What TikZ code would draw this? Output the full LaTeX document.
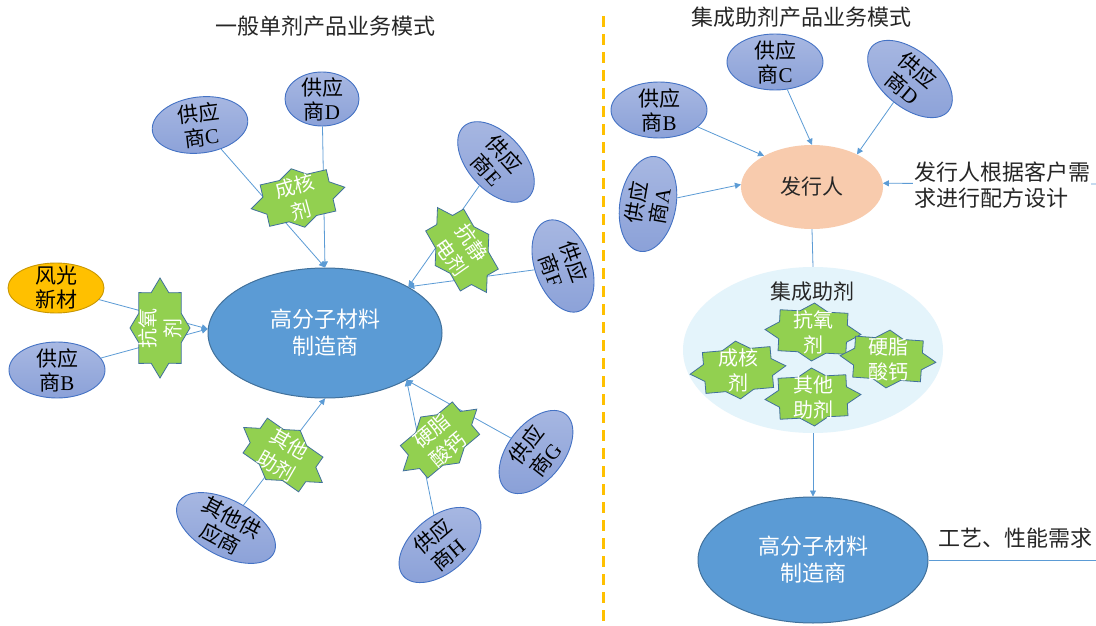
\documentclass[tikz,border=0pt]{standalone}
\usepackage{fontspec}
\setmainfont{Liberation Serif}
\newfontfamily\cjk{Noto Sans CJK SC}
\usetikzlibrary{shapes.geometric,arrows.meta}
\definecolor{supborder}{HTML}{4472C4}
\definecolor{supA}{HTML}{A8B8E2}
\definecolor{supB}{HTML}{8BA1D8}
\definecolor{mainfill}{HTML}{5B9BD5}
\definecolor{mainborder}{HTML}{41719C}
\definecolor{lineblue}{HTML}{5B9BD5}
\definecolor{stargreen}{HTML}{92D050}
\definecolor{orangefill}{HTML}{FFC000}
\definecolor{orangeborder}{HTML}{C99700}
\definecolor{peach}{HTML}{F8CBAD}
\definecolor{paleblue}{HTML}{E4F4FB}
\definecolor{dashorange}{HTML}{FFC000}
\definecolor{txt}{HTML}{262626}
\newcommand\gyslabel[1]{{\cjk 供应}\\{\cjk 商}#1}
\newcommand\drawstar[5]{\draw[starsty,shift={(#1,#2)},rotate=#3] plot[samples at={0,22.5,...,337.5},variable=\t] ({#4*cos(\t)*(1-0.235*mod(round(\t/22.5),2))},{#5*sin(\t)*(1-0.235*mod(round(\t/22.5),2))}) -- cycle;}
\tikzset{
 sup/.style={ellipse, draw=supborder, line width=0.9pt, top color=supA, bottom color=supB,
   minimum width=96pt, minimum height=56pt, inner xsep=0pt, inner ysep=-10pt,
   align=center, font=\fontsize{21}{24}\selectfont, text=black},
 orangesup/.style={ellipse, draw=orangeborder, line width=0.9pt, fill=orangefill,
   minimum width=96pt, minimum height=50pt, inner xsep=0pt, inner ysep=-10pt,
   align=center, font=\cjk\fontsize{21}{24}\selectfont, text=black},
 starsty/.style={fill=stargreen, draw=mainborder, line width=0.8pt, line join=miter},
 startxt/.style={align=center, text=white, font=\cjk\fontsize{20}{25}\selectfont, inner sep=0pt},
 conn/.style={draw=lineblue, line width=0.8pt},
 arr/.style={conn, -{Triangle[length=6pt,width=6pt]}},
 mfr/.style={ellipse, fill=mainfill, draw=mainborder, line width=1pt, inner sep=0pt,
   align=center, text=white, font=\cjk\fontsize{22}{27}\selectfont},
 title/.style={font=\cjk\fontsize{22}{26}\selectfont, text=txt, inner sep=1pt},
}
\begin{document}
\begin{tikzpicture}[x=1pt,y=-1pt]
\useasboundingbox (0,0) rectangle (1096,626);
\fill[white] (0,0) rectangle (1096,626);
% separator
\coordinate (sepT) at (603,16);
\coordinate (sepB) at (603,626);
\draw[dashorange, line width=3pt, dash pattern=on 11pt off 7pt] (sepT) -- (sepB);
% titles
\node[title] (t1) at (325,26) {一般单剂产品业务模式};
\node[title] (t2) at (801,17) {集成助剂产品业务模式};
% ===== left side =====
\node[mfr, minimum width=234pt, minimum height=130pt] (M) at (325,333) {高分子材料\\制造商};
\node[sup, rotate=7] (sC) at (200,125) {\gyslabel{C}};
\node[sup, minimum width=74pt, minimum height=54pt] (sD) at (322,99) {\gyslabel{D}};
\node[sup, rotate=-48] (sE) at (496,162) {\gyslabel{E}};
\node[sup, rotate=-70] (sF) at (563,266) {\gyslabel{F}};
\node[orangesup] (fg) at (56,288) {风光\\新材};
\node[sup] (sB) at (57,370) {\gyslabel{B}};
\node[sup, rotate=-28, minimum width=108pt, font=\cjk\fontsize{21}{24}\selectfont] (sO) at (226,528) {其他供\\应商};
\node[sup, rotate=40] (sH) at (440,545) {\gyslabel{H}};
\node[sup, rotate=52] (sG) at (536,452) {\gyslabel{G}};
% connectors
\draw[arr] (sC) -- (M.north);
\draw[arr] (sD) -- (M.north);
\draw[arr] (sE) -- (M.29);
\draw[arr] (sF) -- (M.29);
\draw[arr] (fg) -- (M.178);
\draw[arr] (sB) -- (M.178);
\draw[arr] (sO) -- (M.south);
\draw[arr] (sG) -- (M.-30);
\draw[arr] (sH) -- (M.-30);
% stars
\drawstar{298}{198}{13}{48}{30}
\node[startxt, rotate=15] (k1) at (298,198) {成核\\剂};
\drawstar{462}{250}{-60}{49}{31}
\node[startxt, rotate=-55] (k2) at (462,250) {抗静\\电剂};
\drawstar{160}{328}{90}{50}{30}
\node[startxt, rotate=90] (k3) at (160,328) {抗氧\\剂};
\drawstar{283}{455}{-35}{48}{30}
\node[startxt, rotate=-30] (k4) at (283,455) {其他\\助剂};
\drawstar{440}{440}{40}{48}{30}
\node[startxt, rotate=40] (k5) at (440,440) {硬脂\\酸钙};
% ===== right side =====
\node[sup] (rB) at (659,110) {\gyslabel{B}};
\node[sup] (rC) at (775,62) {\gyslabel{C}};
\node[sup, rotate=-40, minimum width=100pt] (rD) at (910,79) {\gyslabel{D}};
\node[sup, rotate=80] (rA) at (648,204) {\gyslabel{A}};
\node[ellipse, fill=peach, minimum width=142pt, minimum height=84pt, inner sep=0pt,
  font=\cjk\fontsize{21}{25}\selectfont, text=txt] (P) at (812,187) {发行人};
\coordinate (rin) at (1096,184);
\draw[arr] (rB) -- (P.147);
\draw[arr] (rC) -- (P.north);
\draw[arr] (rD) -- (P.36);
\draw[arr] (rA) -- (P.178);
\draw[arr] (rin) -- (P.3);
\node[fill=white, align=left, anchor=west, inner sep=1pt,
  font=\cjk\fontsize{22}{26}\selectfont, text=txt] (note) at (913,185) {发行人根据客户需\\求进行配方设计};
\node[ellipse, fill=paleblue, minimum width=260pt, minimum height=166pt] (J) at (813,350) {};
\draw[conn] (P.south) -- (J.north);
\node[title, font=\cjk\fontsize{21}{25}\selectfont] (Jl) at (812,292) {集成助剂};
\drawstar{813}{332}{-3}{48}{29}
\node[startxt] (j1) at (813,332) {抗氧\\剂};
\drawstar{738}{370}{5}{48}{29}
\node[startxt] (j2) at (738,370) {成核\\剂};
\drawstar{888}{359}{-4}{48}{29}
\node[startxt] (j3) at (888,359) {硬脂\\酸钙};
\drawstar{813}{397}{3}{48}{29}
\node[startxt] (j4) at (813,397) {其他\\助剂};
\node[mfr, minimum width=230pt, minimum height=126pt] (M2) at (813,560) {高分子材料\\制造商};
\draw[arr] (J.south) -- (M2.north);
\coordinate (rout) at (1096,560);
\draw[conn] (M2.east) -- (rout);
\node[title] (req) at (1015,538) {工艺、性能需求};
\end{tikzpicture}
\end{document}
